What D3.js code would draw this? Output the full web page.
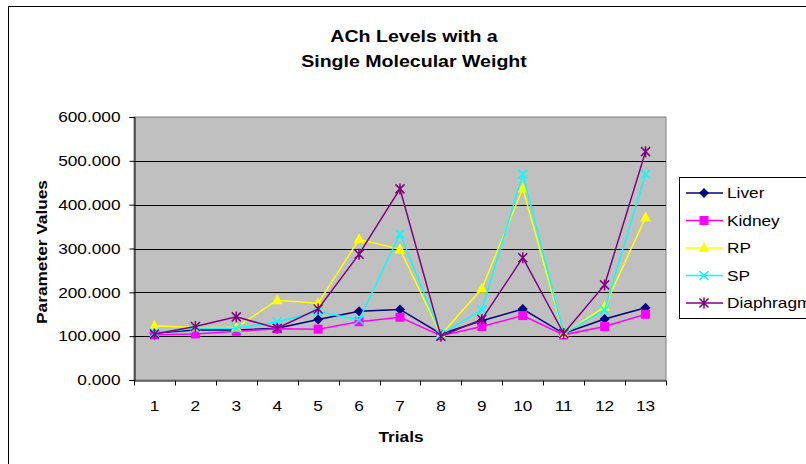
<!DOCTYPE html>
<html>
<head>
<meta charset="utf-8">
<script src="https://cdn.jsdelivr.net/npm/d3@7/dist/d3.min.js"></script>
<style>
  body { margin: 0; background: #fff; }
  svg { display: block; font-family: "Liberation Sans", Arial, sans-serif; }
</style>
</head>
<body>
<div id="chart"></div>
<script>
const trials = ['1','2','3','4','5','6','7','8','9','10','11','12','13'];
const yTicks = [0, 100, 200, 300, 400, 500, 600];
const seriesNames = ['Liver', 'Kidney', 'RP', 'SP', 'Diaphragm'];
const liver     = [107, 114, 114, 118, 138, 157, 161, 105, 135, 162, 106, 139, 165];
const kidney    = [103, 105, 111, 117, 116, 133, 143, 101, 122, 147, 103, 122, 150];
const rp        = [124, 120, 120, 182, 175, 321, 298, 103, 208, 437, 105, 167, 371];
const sp        = [108, 118, 118, 133, 156, 137, 333, 104, 160, 470, 106, 160, 470];
const diaphragm = [105, 122, 144, 118, 162, 287, 436, 100, 138, 279, 106, 217, 521];

const colors = ['#000080', '#FF00FF', '#FFFF00', '#00FFFF', '#800080'];
const symbols = ['diamond', 'square', 'triangle', 'x', 'star'];
const allSeries = [liver, kidney, rp, sp, diaphragm];

const W = 806, H = 464;
const plot = {left: 134, top: 117, right: 666, bottom: 380};
const FONT = '"Liberation Sans", Arial, sans-serif';

const svg = d3.select('#chart').append('svg')
    .attr('width', W).attr('height', H);

// outer chart border
svg.append('rect')
    .attr('x', 8.5).attr('y', 6.5)
    .attr('width', 820).attr('height', 480)
    .attr('fill', '#fff').attr('stroke', '#000').attr('stroke-width', 1);

// title
const title = svg.append('text')
    .attr('text-anchor', 'middle')
    .attr('font-weight', 'bold').attr('font-size', 17);
title.append('tspan').attr('x', 414).attr('y', 42).text('ACh Levels with a');
title.append('tspan').attr('x', 414).attr('y', 67).text('Single Molecular Weight');

const x = d3.scaleBand().domain(trials).range([plot.left, plot.right]);
const y = d3.scaleLinear().domain([0, 600]).range([plot.bottom, plot.top]);

// plot area
svg.append('rect')
    .attr('x', plot.left).attr('y', plot.top)
    .attr('width', plot.right - plot.left).attr('height', plot.bottom - plot.top)
    .attr('fill', '#C0C0C0').attr('stroke', '#808080');

// gridlines
svg.append('g').selectAll('line')
    .data(yTicks.filter(d => d > 0 && d < 600))
    .enter().append('line')
    .attr('x1', plot.left).attr('x2', plot.right)
    .attr('y1', d => Math.round(y(d)) + 0.5).attr('y2', d => Math.round(y(d)) + 0.5)
    .attr('stroke', '#000');

// y axis
const yAxis = d3.axisLeft(y).tickValues(yTicks).tickFormat(d3.format('.3f')).tickSizeOuter(0).tickSize(5).tickPadding(9);
const gy = svg.append('g').attr('transform', `translate(${plot.left + 0.5},0)`).call(yAxis);
gy.selectAll('text').attr('font-size', 15).attr('fill', '#000').style('font-family', FONT);
gy.selectAll('line, path').attr('stroke', '#000');

// x axis
const xAxis = d3.axisBottom(x).tickSize(0).tickPadding(20).tickSizeOuter(0);
const gx = svg.append('g').attr('transform', `translate(0,${plot.bottom + 0.5})`).call(xAxis);
gx.selectAll('text').attr('font-size', 15).attr('fill', '#000').style('font-family', FONT);
gx.select('path').attr('stroke', '#000');
// category boundary ticks
gx.append('g').selectAll('line')
    .data(trials.concat(['end']))
    .enter().append('line')
    .attr('x1', (d, i) => Math.round(plot.left + i * x.step()) + 0.5)
    .attr('x2', (d, i) => Math.round(plot.left + i * x.step()) + 0.5)
    .attr('y1', 0).attr('y2', 5).attr('stroke', '#000');

// axis titles
svg.append('text')
    .attr('x', 401).attr('y', 442)
    .attr('text-anchor', 'middle').attr('font-weight', 'bold').attr('font-size', 15)
    .text('Trials');
svg.append('text')
    .attr('transform', 'translate(47,252) rotate(-90)')
    .attr('text-anchor', 'middle').attr('font-weight', 'bold').attr('font-size', 15)
    .text('Parameter Values');

function marker(g, type, color, cx, cy) {
  if (type === 'diamond') {
    g.append('path').attr('d', `M${cx},${cy-5}L${cx+5},${cy}L${cx},${cy+5}L${cx-5},${cy}Z`).attr('fill', color);
  } else if (type === 'square') {
    g.append('rect').attr('x', cx - 4.5).attr('y', cy - 4.5).attr('width', 9).attr('height', 9).attr('fill', color);
  } else if (type === 'triangle') {
    g.append('path').attr('d', `M${cx},${cy-6}L${cx+5.5},${cy+4}L${cx-5.5},${cy+4}Z`).attr('fill', color);
  } else if (type === 'x') {
    g.append('path').attr('d', `M${cx-4.5},${cy-4.5}L${cx+4.5},${cy+4.5}M${cx-4.5},${cy+4.5}L${cx+4.5},${cy-4.5}`)
      .attr('stroke', color).attr('stroke-width', 1.5).attr('fill', 'none');
  } else {
    g.append('path').attr('d', `M${cx-4.5},${cy-4.5}L${cx+4.5},${cy+4.5}M${cx-4.5},${cy+4.5}L${cx+4.5},${cy-4.5}M${cx},${cy-5.5}L${cx},${cy+5.5}`)
      .attr('stroke', color).attr('stroke-width', 1.5).attr('fill', 'none');
  }
}

const line = d3.line()
    .x((d, i) => x(trials[i]) + x.bandwidth() / 2)
    .y(d => y(d));

allSeries.forEach((vals, si) => {
  const g = svg.append('g');
  g.append('path').datum(vals)
      .attr('d', line)
      .attr('fill', 'none').attr('stroke', colors[si]).attr('stroke-width', 1.5);
  vals.forEach((v, i) => marker(g, symbols[si], colors[si], x(trials[i]) + x.bandwidth() / 2, y(v)));
});

// legend
const legend = svg.append('g');
legend.append('rect')
    .attr('x', 679.5).attr('y', 177.5).attr('width', 140).attr('height', 141)
    .attr('fill', '#fff').attr('stroke', '#000');
seriesNames.forEach((name, i) => {
  const ly = 193 + i * 27.5;
  const g = legend.append('g');
  g.append('line').attr('x1', 686).attr('x2', 723).attr('y1', ly).attr('y2', ly)
      .attr('stroke', colors[i]).attr('stroke-width', 1.5);
  marker(g, symbols[i], colors[i], 704, ly);
  g.append('text').attr('x', 727).attr('y', ly + 5).attr('font-size', 15).text(name);
});

// the reference text is drawn wider than Liberation Sans; widen the glyphs
svg.selectAll('text').each(function() {
  const el = d3.select(this);
  const parts = el.selectAll('tspan').size() ? el.selectAll('tspan') : el;
  parts.each(function() {
    const len = this.getComputedTextLength();
    d3.select(this).attr('textLength', len * 1.15).attr('lengthAdjust', 'spacingAndGlyphs');
  });
});
</script>
</body>
</html>
